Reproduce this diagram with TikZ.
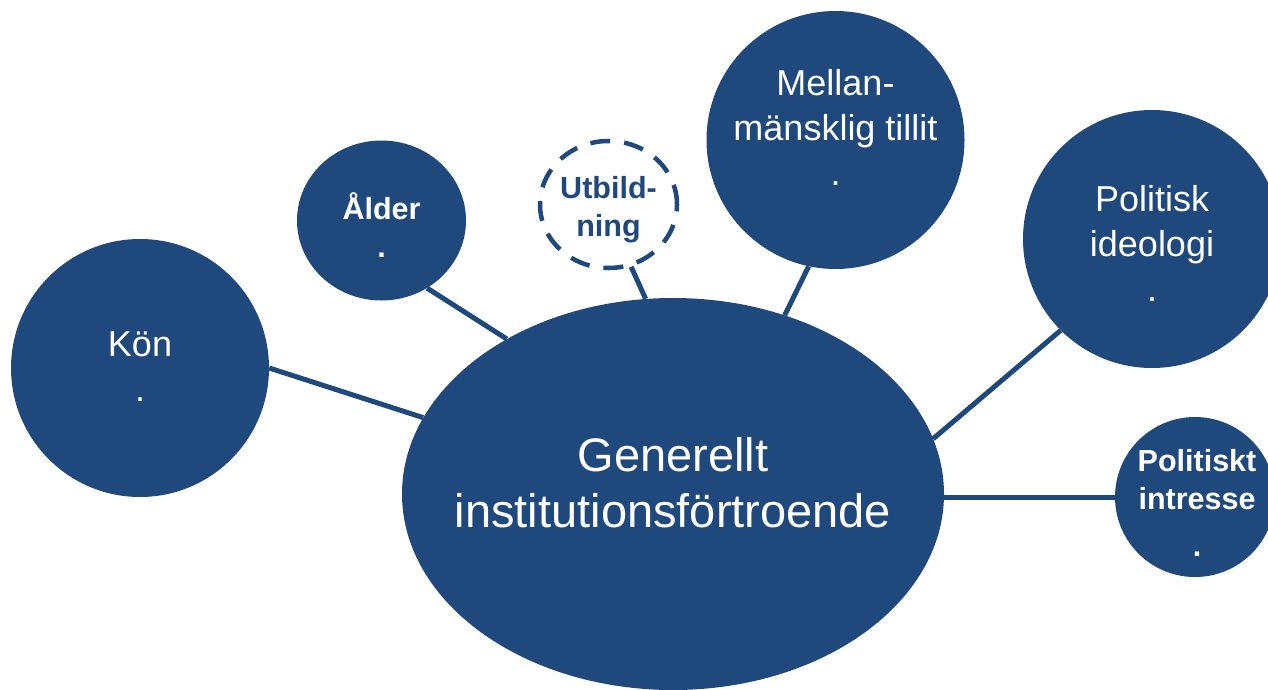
\documentclass[tikz,border=0pt]{standalone}
\usepackage{fontspec}
\setmainfont{Liberation Sans}
\usetikzlibrary{shapes.geometric}
\definecolor{navy}{RGB}{31,73,125}
\tikzset{
  bubble/.style={circle, fill=navy, inner sep=0pt},
  oval/.style={ellipse, fill=navy, inner sep=0pt},
  dashbubble/.style={ellipse, draw=navy, line width=4.5pt, fill=white, inner sep=0pt,
    dash pattern=on 20pt off 14pt},
  plaintxt/.style={text=white, align=center, inner sep=0pt,
    font=\fontsize{36}{45}\selectfont},
  boldtxt/.style={text=white, align=center, inner sep=0pt,
    font=\bfseries\fontsize{30.5}{38}\selectfont},
  bigtxt/.style={text=white, align=center, inner sep=0pt,
    font=\fontsize{47}{56}\selectfont},
  link/.style={draw=navy, line width=5pt}
}
\begin{document}
\begin{tikzpicture}[x=1pt,y=-1pt]
\useasboundingbox (0,0) rectangle (1268,690);
% shapes
\node[oval, minimum width=542pt, minimum height=392pt] (cent) at (673,494) {};
\node[bubble, minimum size=258pt] (kon) at (140,368) {};
\node[oval, minimum width=169pt, minimum height=160pt] (ald) at (381.5,220.5) {};
\node[dashbubble, minimum width=137pt, minimum height=127pt] (utb) at (608.5,204.5) {};
\node[bubble, minimum size=258pt] (mel) at (835.5,140) {};
\node[bubble, minimum size=258pt] (ide) at (1152,239) {};
\node[bubble, minimum size=160pt] (int) at (1195,497) {};
% texts
\node[bigtxt] (centT) at (673,483) {Generellt\\institutionsförtroende};
\node[plaintxt] (konT) at (140,367) {Kön\\.};
\node[boldtxt] (aldT) at (381.5,225) {Ålder\\.};
\node[boldtxt, text=navy] (utbT) at (608.5,210) {Utbild-\\ning};
\node[plaintxt] (melT) at (835.5,127) {Mellan-\\mänsklig tillit\\.};
\node[plaintxt] (ideT) at (1152,243) {Politisk\\ideologi\\.};
\node[boldtxt] (intT) at (1197,503) {Politiskt\\intresse\\[9pt].};
% connectors
\draw[link] (kon.0) -- (cent.163);
\draw[link] (ald.-56.8) -- (cent.137.9);
\draw[link] (utb.-70.3) -- (cent.98.7);
\draw[link] (mel.-102.6) -- (cent.58.2);
\draw[link] (ide.-135.3) -- (cent.12.2);
\draw[link] (cent.east |- int.west) -- (int.west);
\end{tikzpicture}
\end{document}
